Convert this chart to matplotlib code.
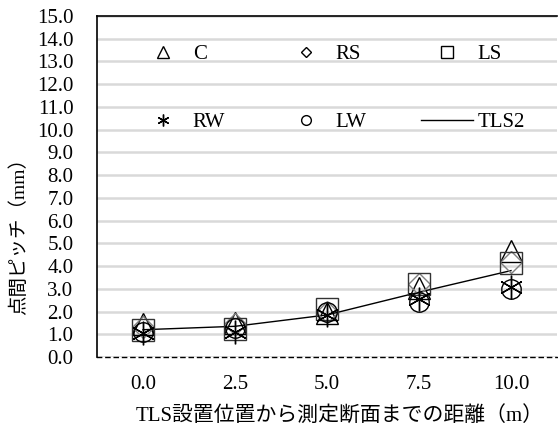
import matplotlib
matplotlib.use("Agg")
import matplotlib.pyplot as plt

plt.rcParams['font.family'] = ['Liberation Serif', 'Noto Sans CJK JP']

categories = ["0.0", "2.5", "5.0", "7.5", "10.0"]
C = [1.45, 1.5, 1.95, 3.05, 4.65]
RS = [1.3, 1.45, 2.0, 3.2, 4.2]
LS = [1.2, 1.25, 2.1, 3.2, 4.15]
RW = [1.05, 1.1, 1.85, 2.55, 3.1]
LW = [1.1, 1.27, 1.98, 2.42, 3.0]
TLS2 = [1.2, 1.35, 1.85, 2.85, 3.8]
yticks = [i * 1.0 for i in range(16)]

fig = plt.figure(figsize=(5.58, 4.32), dpi=100)
ax = fig.add_axes([97/558, 75/432, 460/558, 341/432])

x = list(range(len(categories)))
fs = 15

ax.plot(x, TLS2, color='black', lw=1.0, label='TLS2', zorder=3)
ax.plot(x, C, ls='none', marker='^', ms=16, mfc='none', mec='black', mew=1.0, label='C', zorder=4)
ax.plot(x, RS, ls='none', marker='D', ms=11, mfc='none', mec='#808080', mew=1.0, label='RS', zorder=4)
ax.plot(x, LS, ls='none', marker='s', ms=16, mfc='none', mec='#333333', mew=1.0, label='LS', zorder=4)
ax.plot(x, RW, ls='none', marker=(6, 2, 0), ms=17, mfc='none', mec='black', mew=1.0, label='RW', zorder=4)
ax.plot(x, LW, ls='none', marker='o', ms=14, mfc='none', mec='black', mew=1.0, label='LW', zorder=4)

ax.set_xlim(-0.5, len(categories) - 0.5)
ax.set_ylim(0, 15)
ax.set_xticks(x)
ax.set_xticklabels(categories)
ax.set_yticks(yticks)
ax.set_yticklabels([f"{v:.1f}" for v in yticks])
ax.tick_params(axis='both', length=0, labelsize=fs)
ax.tick_params(axis='y', pad=17)
ax.tick_params(axis='x', pad=13)

ax.grid(axis='y', color='#d9d9d9', lw=1.8)
ax.set_axisbelow(True)

ax.spines['right'].set_visible(False)
ax.spines['top'].set_linewidth(1.2)
ax.spines['left'].set_linewidth(1.2)
ax.spines['bottom'].set_linestyle((0, (3, 3)))
ax.spines['bottom'].set_linewidth(1.0)

ax.set_ylabel('点間ピッチ（mm）', fontsize=14)
ax.yaxis.set_label_coords(-0.15, 0.367)
ax.set_xlabel('TLS設置位置から測定断面までの距離（m）', fontsize=fs)
ax.xaxis.set_label_coords(0.528, -0.145)

h, l = ax.get_legend_handles_labels()
order = ['C', 'RS', 'LS', 'RW', 'LW', 'TLS2']
hh = [h[l.index(o)] for o in order]
# ncol=3 fills column-wise; reorder so rows read C RS LS / RW LW TLS2
seq = [0, 3, 1, 4, 2, 5]
leg = ax.legend([hh[i] for i in seq], [order[i] for i in seq], ncol=3,
                loc='upper left', bbox_to_anchor=(0.068, 0.94), frameon=False,
                fontsize=fs, markerscale=0.5, handlelength=2.5, handletextpad=0.2,
                columnspacing=2.6, labelspacing=2.3, borderaxespad=0)
for hd in leg.legend_handles:
    try:
        hd.set_markeredgecolor('black')
    except Exception:
        pass

fig.savefig('out.png', dpi=100)
